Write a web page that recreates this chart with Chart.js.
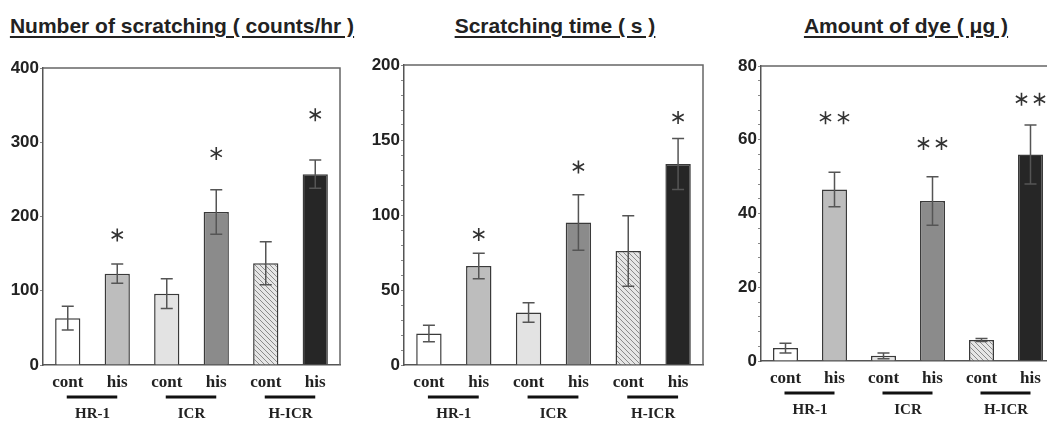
<!DOCTYPE html>
<html>
<head>
<meta charset="utf-8">
<script src="https://cdn.jsdelivr.net/npm/chart.js@4/dist/chart.umd.min.js"></script>
<style>
  html, body { margin: 0; padding: 0; background: #fff; }
  body { width: 1047px; height: 421px; position: relative; overflow: hidden; }
  .panel { position: absolute; top: 0; height: 421px; }
  .title {
    position: absolute; top: 14px; transform: translateX(-50%); white-space: nowrap;
    font: bold 21px "Liberation Sans", Arial, sans-serif; color: #222;
    text-decoration: underline; text-decoration-thickness: 1.5px; text-underline-offset: 3px;
  }
</style>
</head>
<body>
<div class="title" style="left:182px">Number of scratching ( counts/hr )</div>
<div class="title" style="left:555px">Scratching time ( s )</div>
<div class="title" style="left:906px">Amount of dye ( μg )</div>
<div class="panel" style="left:0px;width:345px"><canvas id="countChart"></canvas></div>
<div class="panel" style="left:361px;width:347px"><canvas id="timeChart"></canvas></div>
<div class="panel" style="left:718px;width:342px"><canvas id="dyeChart"></canvas></div>
<script>
const groups = ["HR-1", "ICR", "H-ICR"];
const labels = ["cont", "his", "cont", "his", "cont", "his"];

const countMeans = [63, 123, 96, 206, 137, 257];
const countErrs = [16, 13, 20, 30, 29, 19];
const countStars = [null, 175, null, 285, null, 337];

const timeMeans = [21, 66, 35, 95, 76, 134];
const timeErrs = [5.5, 8.5, 6.5, 18.5, 23.5, 17];
const timeStars = [null, 87, null, 132, null, 165];

const dyeMeans = [3.5, 46.5, 1.4, 43.4, 5.7, 56];
const dyeErrs = [1.3, 4.7, 0.8, 6.6, 0.4, 8];
const dyeStars = [null, 66, null, 59, null, 71];

// diagonal hatch for the H-ICR control bar
function hatch() {
  const c = document.createElement("canvas");
  c.width = 5; c.height = 5;
  const g = c.getContext("2d");
  g.fillStyle = "#e6e6e6";
  g.fillRect(0, 0, 5, 5);
  g.strokeStyle = "#8a8a8a";
  g.lineWidth = 1;
  g.beginPath();
  g.moveTo(-1, -1); g.lineTo(6, 6);
  g.moveTo(-1, 4); g.lineTo(1, 6);
  g.moveTo(4, -1); g.lineTo(6, 1);
  g.stroke();
  return g.createPattern(c, "repeat");
}

const fills = ["#ffffff", "#bdbdbd", "#e3e3e3", "#8b8b8b", hatch(), "#262626"];

function drawStar(ctx, cx, cy) {
  const r = 6.5;
  ctx.beginPath();
  for (let k = 0; k < 3; k++) {
    const a = Math.PI / 2 + k * Math.PI / 3;
    ctx.moveTo(cx + r * Math.cos(a), cy + r * Math.sin(a));
    ctx.lineTo(cx - r * Math.cos(a), cy - r * Math.sin(a));
  }
  ctx.stroke();
}

const extras = {
  id: "extras",
  afterDatasetsDraw(chart, args, opts) {
    const { ctx, chartArea: a, scales: { x, y } } = chart;
    const means = chart.data.datasets[0].data;
    ctx.save();

    // box frame (top and right)
    ctx.strokeStyle = "#666";
    ctx.lineWidth = 1.5;
    ctx.beginPath();
    ctx.moveTo(a.left, a.top);
    ctx.lineTo(a.right, a.top);
    ctx.lineTo(a.right, a.bottom);
    ctx.stroke();

    // error bars
    ctx.strokeStyle = "#555";
    ctx.lineWidth = 1.5;
    opts.errs.forEach((e, i) => {
      const px = x.getPixelForValue(i);
      const yt = y.getPixelForValue(means[i] + e);
      const yb = y.getPixelForValue(means[i] - e);
      ctx.beginPath();
      ctx.moveTo(px, yt); ctx.lineTo(px, yb);
      ctx.moveTo(px - 6, yt); ctx.lineTo(px + 6, yt);
      ctx.moveTo(px - 6, yb); ctx.lineTo(px + 6, yb);
      ctx.stroke();
    });

    // significance stars
    ctx.strokeStyle = "#333";
    ctx.lineWidth = 1.6;
    opts.stars.forEach((s, i) => {
      if (s == null) return;
      const px = x.getPixelForValue(i);
      const py = y.getPixelForValue(s);
      if (opts.double) {
        drawStar(ctx, px - 9, py);
        drawStar(ctx, px + 9, py);
      } else {
        drawStar(ctx, px, py);
      }
    });

    // strain lines and names
    ctx.strokeStyle = "#111";
    ctx.lineWidth = 3;
    ctx.fillStyle = "#222";
    ctx.font = "bold 15px 'Liberation Serif', 'Times New Roman', serif";
    ctx.textAlign = "center";
    ctx.textBaseline = "middle";
    groups.forEach((g, k) => {
      const x0 = x.getPixelForValue(2 * k);
      const x1 = x.getPixelForValue(2 * k + 1);
      ctx.beginPath();
      ctx.moveTo(x0 - 1, a.bottom + opts.lineGap);
      ctx.lineTo(x1, a.bottom + opts.lineGap);
      ctx.stroke();
      ctx.fillText(g, (x0 + x1) / 2, a.bottom + opts.lineGap + 17);
    });
    ctx.restore();
  }
};

function makeChart(id, means, errs, stars, max, step, major, top, xHeight, double) {
  return new Chart(document.getElementById(id), {
    type: "bar",
    data: {
      labels: labels,
      datasets: [{
        data: means,
        backgroundColor: fills,
        borderColor: "#3a3a3a",
        borderWidth: 1.5,
        borderSkipped: "bottom",
        barPercentage: 0.51,
        categoryPercentage: 1.0,
      }],
    },
    options: {
      responsive: true,
      maintainAspectRatio: false,
      animation: false,
      layout: { padding: { left: 0, right: 5, top: top, bottom: 0 } },
      plugins: {
        legend: { display: false },
        tooltip: { enabled: false },
        extras: { errs: errs, stars: stars, double: double, lineGap: 32 },
      },
      scales: {
        x: {
          afterFit: (s) => { s.height = xHeight; },
          grid: { display: false, drawTicks: false },
          border: { color: "#555", width: 1.5 },
          ticks: {
            padding: 7,
            color: "#222",
            font: { family: "'Liberation Serif', 'Times New Roman', serif", size: 17, weight: "bold" },
          },
        },
        y: {
          min: 0,
          max: max,
          afterFit: (s) => { s.width = 43; },
          grid: { drawOnChartArea: false, tickLength: 3, color: "#888" },
          border: { color: "#555", width: 1.5 },
          ticks: {
            stepSize: step,
            autoSkip: false,
            padding: 1,
            color: "#222",
            font: { family: "'Liberation Sans', Arial, sans-serif", size: 17, weight: "bold" },
            callback: (v) => (v % major === 0 ? v : ""),
          },
        },
      },
    },
    plugins: [extras],
  });
}

makeChart("countChart", countMeans, countErrs, countStars, 400, 100, 100, 68, 56, false);
makeChart("timeChart", timeMeans, timeErrs, timeStars, 200, 10, 50, 65, 56, false);
makeChart("dyeChart", dyeMeans, dyeErrs, dyeStars, 80, 4, 20, 66, 60, true);
</script>
</body>
</html>
